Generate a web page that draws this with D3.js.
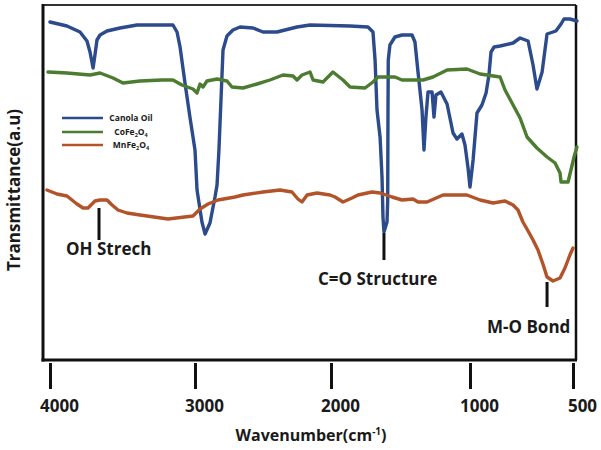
<!DOCTYPE html>
<html><head><meta charset="utf-8">
<script src="https://cdn.jsdelivr.net/npm/d3@7/dist/d3.min.js"></script>
<style>
body{margin:0;background:#fff;}
text{font-family:"Open Sans","DejaVu Sans",sans-serif;font-weight:700;fill:#1a1a1a;}
</style></head>
<body><svg id="c" width="601" height="450"></svg>
<script>
// ---- data (wavenumber cm-1, transmittance a.u.) ----
const canolaWn = [4000,3883,3793,3745,3724,3703,3690,3676,3655,3607,3517,3400,3152,3124,3103,3069,3034,3000,2985,2949,2926,2890,2853,2838,2824,2809,2794,2765,2721,2669,2574,2500,2397,2250,2154,1863,1734,1698,1683,1669,1647,1633,1626,1619,1597,1592,1590,1588,1576,1540,1489,1417,1396,1374,1345,1331,1317,1302,1273,1259,1245,1209,1165,1122,1094,1058,1036,1014,1000,985,966,942,922,908,898,883,854,791,757,718,694,675,650,626,583,558,544,515,481];
const canolaT = [67.6,66.8,65.6,63.8,61.6,58.4,61,64,65,65.8,66.4,67,67,65.6,62.6,55.4,48.4,42,34,27.6,25.2,27.4,32.6,35,42,52,62,64.8,66,66.6,66.4,65.6,65.6,66.6,67,66.8,66.6,65.6,60,50,44.6,36.6,28.6,25.6,27.6,32,50,60,63,64.6,65,65,63.6,57.6,50,42,48.6,53.6,53.6,48.6,53,53.6,51.2,45.4,44.2,45.2,43,38.4,34.6,40,49.4,51,53.4,57,61.6,62.6,62.8,63.4,64.4,63.8,59,54.2,57.6,65.2,65.8,67.2,68.2,68.2,67.8];
const cofeWn = [4014,3883,3724,3655,3565,3497,3379,3228,3152,3090,3014,2985,2963,2941,2912,2838,2765,2728,2647,2544,2449,2353,2279,2250,2213,2154,2132,2059,1986,1914,1863,1755,1698,1662,1540,1489,1338,1266,1165,1022,951,854,830,796,757,723,675,626,587,563,558,524,510,495,481];
const cofeT = [57.6,57.4,57,57.4,56.4,55.4,55.8,56,56,55,54.2,53.4,55.2,54.6,55.8,56.2,55.8,54.6,54.4,55.2,56,57,56.8,56,57,57.6,56,55.6,57.6,56,54.6,54.4,55.6,56.6,56.6,56,56,56.6,58,58.2,57.2,56.6,54,51.4,48.4,44.6,42.4,40.6,39.4,37.4,35.6,35.6,38,40.6,42.6];
const mnfeWn = [4021,3952,3883,3814,3772,3738,3690,3655,3607,3572,3531,3469,3379,3186,3014,2963,2904,2831,2706,2647,2500,2375,2287,2243,2213,2176,2103,2007,1971,1914,1849,1806,1705,1647,1561,1489,1410,1374,1309,1194,1022,951,888,830,791,767,743,718,694,670,646,626,597,563,539,515,500];
const mnfeT = [34,33.2,32.8,31.2,30.4,30.4,31.8,32,32,31,30,29.4,29,28.2,28.8,30.2,31.2,32,32.6,33,33.6,34,33.6,32.2,31.6,33,33.4,33,32.6,31.6,32.4,33,33.6,33.4,32.6,32,32.2,31.6,31.6,33,33,32,31.4,31.8,31,30,27.6,25.8,24,22,19.2,16.6,15.8,16.4,18.4,21,22.4];
const seriesNames = ["Canola Oil","CoFe2O4","MnFe2O4"];
const tickValues = [4000,3000,2000,1000,500];
const annotations = [
  {label:"OH Strech", wn:3662, from:30.4, to:24},
  {label:"C=O Structure", wn:1619, from:25.4, to:20},
  {label:"M-O Bond", wn:626, from:15.6, to:10.6}
];

// ---- drawing ----
const svg = d3.select("#c");
const frame = {l:43, t:5, r:576, b:360};
const x = d3.scaleLinear().domain([4000,3000,2000,1000,500]).range([50,195,331,470,573]);
const y = d3.scaleLinear().domain([0,71]).range([frame.b, frame.t]);
const colors = ["#2b4b8c","#4b7c30","#b3532a"];

const series = [
  canolaWn.map((w,i)=>[w,canolaT[i]]),
  cofeWn.map((w,i)=>[w,cofeT[i]]),
  mnfeWn.map((w,i)=>[w,mnfeT[i]])
];
const line = d3.line().x(d=>x(d[0])).y(d=>y(d[1])).curve(d3.curveLinear);

// frame
svg.append("line").attr("x1",frame.l).attr("x2",frame.r).attr("y1",frame.t).attr("y2",frame.t).attr("stroke","#333").attr("stroke-width",2);
svg.append("line").attr("x1",frame.r).attr("x2",frame.r).attr("y1",frame.t).attr("y2",frame.b).attr("stroke","#111").attr("stroke-width",2.5);
svg.append("line").attr("x1",frame.l).attr("x2",frame.l).attr("y1",frame.t-1).attr("y2",frame.b+1.5).attr("stroke","#111").attr("stroke-width",3);
svg.append("line").attr("x1",frame.l-1.5).attr("x2",frame.r+1).attr("y1",frame.b).attr("y2",frame.b).attr("stroke","#111").attr("stroke-width",3);

// series
series.forEach((s,i)=>{
  svg.append("path").datum(s).attr("d",line).attr("fill","none")
    .attr("stroke",colors[i]).attr("stroke-width",3.4)
    .attr("stroke-linejoin","round").attr("stroke-linecap","round");
});

// x axis
const ax = d3.axisBottom(x).tickValues(tickValues).tickSize(26).tickPadding(10).tickFormat(d3.format("d"));
const g = svg.append("g").attr("transform",`translate(0,${frame.b+3})`).call(ax);
g.select(".domain").remove();
g.selectAll(".tick line").attr("stroke","#111").attr("stroke-width",3);
g.selectAll(".tick text").attr("font-size",17).attr("dx",9).attr("dy","0.78em")
  .style("font-family",'"Open Sans",sans-serif').style("font-weight",700).attr("fill","#1a1a1a");

// axis titles
const xt = svg.append("text").attr("x",311).attr("y",441).attr("text-anchor","middle").attr("font-size",16);
xt.append("tspan").text("Wavenumber(cm");
xt.append("tspan").text("-1").attr("font-size",10).attr("dy",-6);
xt.append("tspan").text(")").attr("dy",6);
svg.append("text").attr("transform","translate(20,190) rotate(-90)").attr("text-anchor","middle")
  .attr("font-size",17).text("Transmittance(a.u)");

// annotations
annotations.forEach(a=>{
  svg.append("line").attr("x1",x(a.wn)).attr("x2",x(a.wn)).attr("y1",y(a.from)).attr("y2",y(a.to))
    .attr("stroke","#111").attr("stroke-width",3);
});
svg.append("text").attr("x",66).attr("y",255).attr("font-size",17).text(annotations[0].label);
svg.append("text").attr("x",318).attr("y",285).attr("font-size",17).text(annotations[1].label);
svg.append("text").attr("x",487).attr("y",333).attr("font-size",17).text(annotations[2].label);

// legend
const leg = svg.append("g");
const legY = [118,132,145];
seriesNames.forEach((n,i)=>{
  leg.append("line").attr("x1",62).attr("x2",103).attr("y1",legY[i]).attr("y2",legY[i])
    .attr("stroke",colors[i]).attr("stroke-width",2.6);
  const t = leg.append("text").attr("x",131).attr("y",legY[i]+3).attr("text-anchor","middle").attr("font-size",8.5);
  const m = n.match(/^([A-Za-z]+)(\d)(O)(\d)$/);
  if(m){
    t.append("tspan").text(m[1]);
    t.append("tspan").text(m[2]).attr("font-size",5.5).attr("dy",2);
    t.append("tspan").text(m[3]).attr("dy",-2);
    t.append("tspan").text(m[4]).attr("font-size",5.5).attr("dy",2);
  } else t.text(n);
});
</script></body></html>
